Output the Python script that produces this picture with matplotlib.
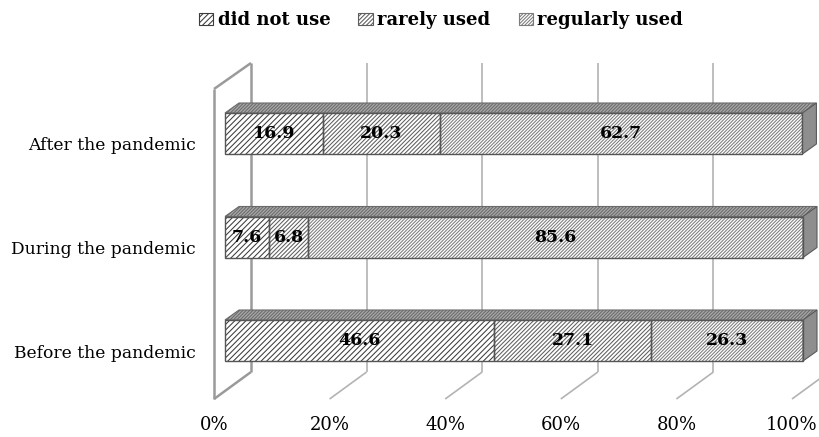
import matplotlib
matplotlib.use("Agg")
import matplotlib.pyplot as plt
from matplotlib.patches import Polygon, Patch
from matplotlib.transforms import ScaledTranslation

# ---- data ----
categories = ["Before the pandemic", "During the pandemic", "After the pandemic"]
series_names = ["did not use", "rarely used", "regularly used"]
did_not_use = [46.6, 7.6, 16.9]
rarely_used = [27.1, 6.8, 20.3]
regularly_used = [26.3, 85.6, 62.7]
tick_values = [0, 20, 40, 60, 80, 100]
tick_labels = ["0%", "20%", "40%", "60%", "80%", "100%"]

series = [did_not_use, rarely_used, regularly_used]
hatches = ["//////", "////////", "//////////"]
hatch_colors = ["#3c3c3c", "#5e5e5e", "#7c7c7c"]

plt.rcParams["hatch.linewidth"] = 0.75

W, H, DPI = 819, 437, 100
fig = plt.figure(figsize=(W / DPI, H / DPI), dpi=DPI)
fig.patch.set_facecolor("white")

# axes placed so the front faces of the bars sit on the data scale
ax = fig.add_axes([225 / W, 44.75 / H, 578 / W, 310.5 / H])
ax.set_xlim(0, 100)
ax.set_ylim(-0.5, 2.5)
ax.axis("off")

# pixel -> data conversion for the 3-D depth offsets
sx = 578 / 100.0
sy = 310.5 / 3.0
bar_h = 41 / sy
bar_dx, bar_dy = 14 / sx, 10 / sy          # depth of each bar
front_dx = -11 / sx                         # floor front edge
back_dx, back_dy = 26 / sx, 27 / sy         # back wall offset
y_floor = -0.5 - 6.75 / sy
y_back = y_floor + back_dy
wall_h = 309 / sy
front_top = y_floor + 310 / sy

grid_kw = dict(color="#b3b3b3", lw=1.2, solid_capstyle="butt", clip_on=False, zorder=1)
wall_kw = dict(color="#9a9a9a", lw=1.8, solid_capstyle="butt", clip_on=False, zorder=1)

# back wall gridlines and floor lines
for v in tick_values[1:]:
    ax.plot([v + back_dx, v + back_dx], [y_back, y_back + wall_h], **grid_kw)
    ax.plot([v + front_dx, v + back_dx], [y_floor, y_back], **grid_kw)

# left side wall
x0f, x0b = front_dx, back_dx
ax.plot([x0f, x0f], [y_floor, front_top], **wall_kw)
ax.plot([x0b, x0b], [y_back, y_back + wall_h], **wall_kw)
ax.plot([x0f, x0b], [front_top, y_back + wall_h], **wall_kw)
ax.plot([x0f, x0b], [y_floor, y_back], **wall_kw)

# bars
ypos = list(range(len(categories)))
left = [0.0] * len(categories)
for vals, hatch, hc in zip(series, hatches, hatch_colors):
    ax.barh(ypos, vals, left=left, height=bar_h, color="white",
            edgecolor=hc, hatch=hatch, linewidth=0, zorder=3, clip_on=False)
    ax.barh(ypos, vals, left=left, height=bar_h, fill=False,
            edgecolor="#555555", linewidth=1.0, zorder=4, clip_on=False)
    for y, l, v in zip(ypos, left, vals):
        ax.text(l + v / 2, y, f"{v:.1f}", ha="center", va="center",
                fontsize=12.5, fontweight="bold", family="DejaVu Serif",
                color="black", zorder=6)
    left = [a + b for a, b in zip(left, vals)]

# top and end faces of each bar
for y, total in zip(ypos, left):
    top = y + bar_h / 2
    bot = y - bar_h / 2
    ax.add_patch(Polygon([(0, top), (total, top), (total + bar_dx, top + bar_dy),
                          (bar_dx, top + bar_dy)], closed=True,
                         facecolor="#a8a8a8", edgecolor="#6a6a6a", lw=0.8,
                         hatch="//////////", zorder=3, clip_on=False))
    ax.add_patch(Polygon([(total, bot), (total, top), (total + bar_dx, top + bar_dy),
                          (total + bar_dx, bot + bar_dy)], closed=True,
                         facecolor="#8e8e8e", edgecolor="#5a5a5a", lw=0.8,
                         zorder=3, clip_on=False))

# category labels
for y, name in zip(ypos, categories):
    ax.text(0, y, name, ha="right", va="baseline", fontsize=12.3,
            family="DejaVu Serif", color="black",
            transform=ax.transData + ScaledTranslation(-29 / DPI, -17 / DPI,
                                                       fig.dpi_scale_trans))

# value axis labels along the floor front edge
for v, lab in zip(tick_values, tick_labels):
    ax.text(v + front_dx, y_floor - 26 / sy, lab, ha="center", va="center",
            fontsize=13, family="DejaVu Serif", color="black", clip_on=False)

# legend
handles = [Patch(facecolor="white", edgecolor=hc, hatch=h, lw=0.8)
           for h, hc in zip(hatches, hatch_colors)]
fig.legend(handles, series_names, loc="center", bbox_to_anchor=(441 / W, 1 - 20 / H),
           ncol=3, frameon=False, handlelength=0.8, handleheight=0.65,
           handletextpad=0.25, columnspacing=1.55,
           prop={"family": "DejaVu Serif", "weight": "bold", "size": 13})

fig.savefig("out.png", dpi=DPI, facecolor="white")
